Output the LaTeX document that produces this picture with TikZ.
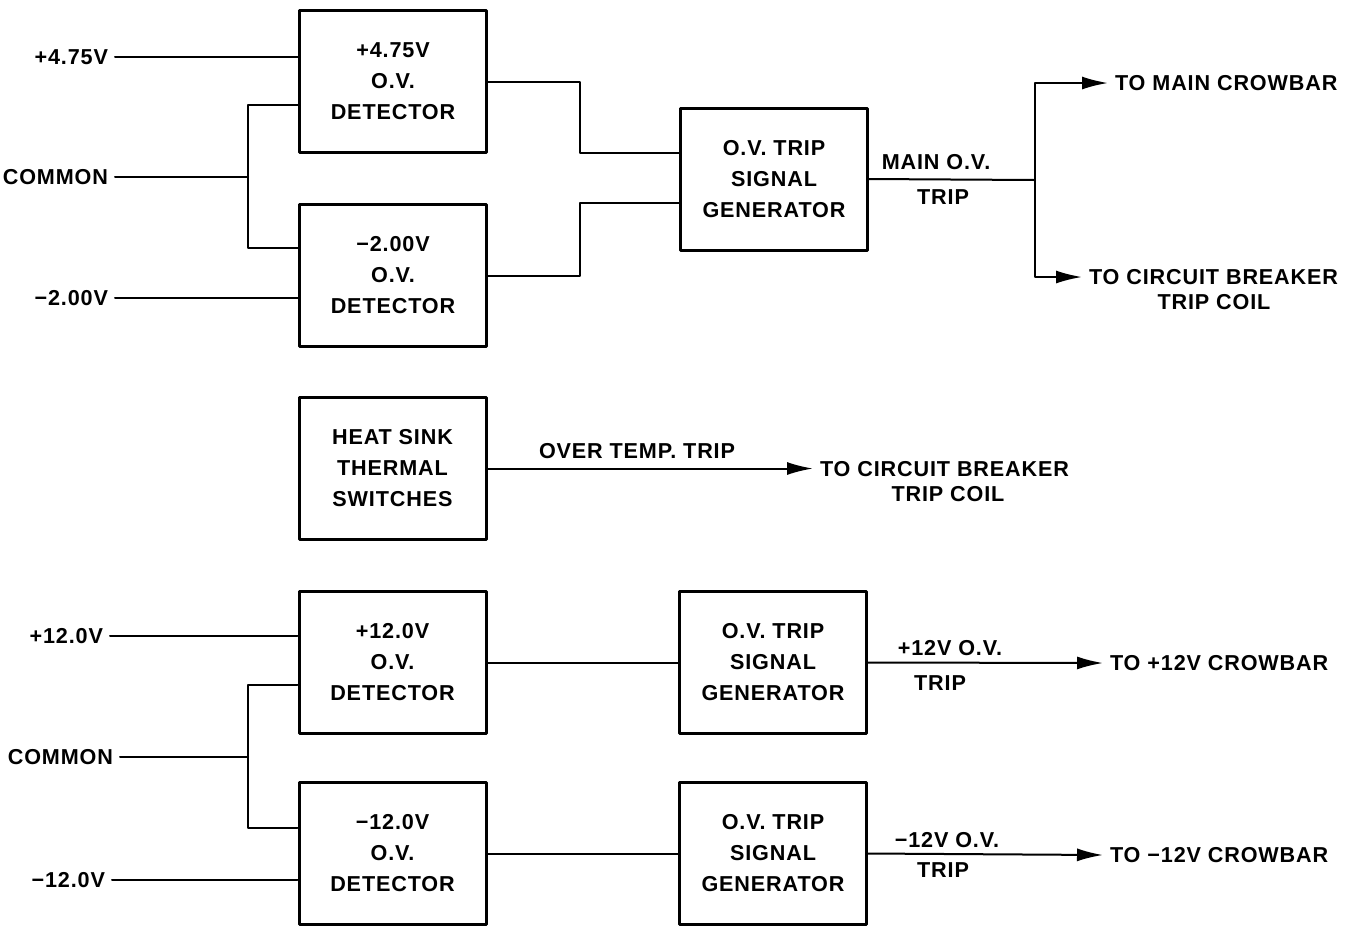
\documentclass[tikz,border=0pt]{standalone}
\usepackage{fontspec}
\setmainfont{Liberation Sans}[LetterSpace=4]
\usetikzlibrary{arrows.meta}
\begin{document}
\begin{tikzpicture}[x=0.5pt,y=-0.5pt,line cap=round,line join=round,
  blk/.style={draw,line width=1.5pt,minimum width=93.5pt,minimum height=71pt,inner sep=0pt,align=center,font=\bfseries\fontsize{10.8}{15.5}\selectfont},
  lbl/.style={font=\bfseries\fontsize{10.8}{13}\selectfont},
  wire/.style={line width=1pt},
  feed/.style={wire,-{Latex[length=13pt,width=6.5pt]}}]
\path[use as bounding box] (0,0) rectangle (1366,928);
\node[blk] (dA) at (393,81.5) {+4.75V\\O.V.\\DETECTOR};
\node[blk] (dB) at (393,275.5) {−2.00V\\O.V.\\DETECTOR};
\node[blk] (gA) at (774,179) {O.V. TRIP\\SIGNAL\\GENERATOR};
\node[blk] (hs) at (392.5,468.5) {HEAT SINK\\THERMAL\\SWITCHES};
\node[blk] (dC) at (392.5,662.5) {+12.0V\\O.V.\\DETECTOR};
\node[blk] (dD) at (392.5,853.5) {−12.0V\\O.V.\\DETECTOR};
\node[blk] (gC) at (773,662.5) {O.V. TRIP\\SIGNAL\\GENERATOR};
\node[blk] (gD) at (773,853.5) {O.V. TRIP\\SIGNAL\\GENERATOR};
\node[lbl,anchor=east] (pA) at (115,57) {+4.75V};
\node[lbl,anchor=east] (cmA) at (115,177) {COMMON};
\node[lbl,anchor=east] (mA) at (115,298) {−2.00V};
\node[lbl,anchor=east] (pC) at (110,636) {+12.0V};
\node[lbl,anchor=east] (cmC) at (120,757) {COMMON};
\node[lbl,anchor=east] (mC) at (112,880) {−12.0V};
\coordinate (jA) at (248,177);
\coordinate (jAt) at (248,105);
\coordinate (jAb) at (248,248);
\coordinate (kA) at (580,153);
\coordinate (kB) at (580,203);
\coordinate (jB) at (1035,180);
\coordinate (jC) at (248,757);
\coordinate (jCt) at (248,685);
\coordinate (jCb) at (248,828);
\draw[wire] (pA.east) -- (pA.east -| dA.west);
\draw[wire] (mA.east) -- (mA.east -| dB.west);
\draw[wire] (cmA.east) -- (jA);
\draw[wire] (jAt -| dA.west) -- (jAt) -- (jAb) -- (jAb -| dB.west);
\draw[wire] (dA.east) -| (kA) -- (kA -| gA.west);
\draw[wire] (dB.east) -| (kB) -- (kB -| gA.west);
\draw[wire] (gA.east) -- (jB);
\node[lbl] (tMain) at (936,162) {MAIN O.V.};
\node[lbl] (tMain2) at (943,197) {TRIP};
\node[lbl,anchor=west] (toMain) at (1108,83) {TO MAIN CROWBAR};
\node[lbl,anchor=west] (toCB) at (1082,277) {TO CIRCUIT BREAKER};
\node[lbl] (coilA) at (1214,302) {TRIP COIL};
\draw[feed] (jB) |- (toMain.west);
\draw[feed] (jB) |- (toCB.west);
\node[lbl] (tOT) at (637,451) {OVER TEMP. TRIP};
\node[lbl,anchor=west] (toCB2) at (813,469) {TO CIRCUIT BREAKER};
\node[lbl] (coilB) at (948,494) {TRIP COIL};
\draw[feed] (hs.east) -- (hs.east -| toCB2.west);
\draw[wire] (pC.east) -- (pC.east -| dC.west);
\draw[wire] (mC.east) -- (mC.east -| dD.west);
\draw[wire] (cmC.east) -- (jC);
\draw[wire] (jCt -| dC.west) -- (jCt) -- (jCb) -- (jCb -| dD.west);
\draw[wire] (dC.east) -- (gC.west);
\draw[wire] (dD.east) -- (gD.west);
\node[lbl] (tP) at (950,648) {+12V O.V.};
\node[lbl] (tP2) at (940,683) {TRIP};
\node[lbl] (tM) at (947,840) {−12V O.V.};
\node[lbl] (tM2) at (943,870) {TRIP};
\node[lbl,anchor=west] (toP) at (1103,663) {TO +12V CROWBAR};
\node[lbl,anchor=west] (toM) at (1103,855) {TO −12V CROWBAR};
\draw[feed] (gC.east) -- (toP.west);
\draw[feed] (gD.east) -- (toM.west);
\end{tikzpicture}
\end{document}
